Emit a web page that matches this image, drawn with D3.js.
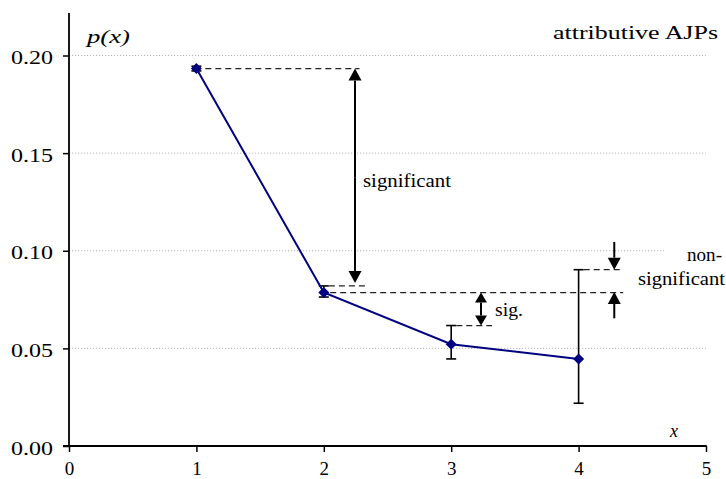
<!DOCTYPE html>
<html><head><meta charset="utf-8">
<script src="https://cdn.jsdelivr.net/npm/d3@7"></script>
<style>body{margin:0;background:#fff}svg{display:block}</style>
</head><body>
<script>
const xValues = [1, 2, 3, 4];
const pValues = [0.1933, 0.0786, 0.0521, 0.0446];
const errLow  = [0.1921, 0.0763, 0.0446, 0.0219];
const errHigh = [0.1945, 0.0820, 0.0617, 0.0903];
const xTicks = [0, 1, 2, 3, 4, 5];
const yTicks = [0, 0.05, 0.10, 0.15, 0.20];
const yTickLabels = ["0.00", "0.05", "0.10", "0.15", "0.20"];

const FONT = "Liberation Serif";
const TICK_SIZE = 19, LABEL_SIZE = 18;
const W = 726, H = 479;
const svg = d3.select("body").append("svg").attr("width", W).attr("height", H);
const x = d3.scaleLinear().domain([0, 5]).range([69, 706]);
const y = d3.scaleLinear().domain([0, 0.2]).range([446, 55.5]);

// gridlines
svg.append("g").selectAll("line").data(yTicks.filter(d => d > 0)).join("line")
  .attr("x1", x(0)).attr("x2", x(5)).attr("y1", d => y(d)).attr("y2", d => y(d))
  .attr("stroke", "#b8b8b8").attr("stroke-width", 1).attr("stroke-dasharray", "1.2,1.8");

// white box behind right label
svg.append("rect").attr("x", 664).attr("y", 238).attr("width", 62).attr("height", 28).attr("fill", "#fff");

// axes
const yAxis = svg.append("g").attr("transform", `translate(${x(0)},0)`)
  .call(d3.axisLeft(y).tickValues(yTicks).tickSize(6).tickFormat((d, i) => yTickLabels[i]));
const xAxis = svg.append("g").attr("transform", `translate(0,${y(0)})`)
  .call(d3.axisBottom(x).tickValues(xTicks).tickSize(6).tickFormat(d3.format("d")));
[yAxis, xAxis].forEach(g => {
  g.attr("font-family", null).attr("font-size", null);
  g.select(".domain").remove();
  g.selectAll(".tick line").attr("stroke", "#000").attr("stroke-width", 1.5);
  g.selectAll("text").style("font-family", FONT).style("font-size", TICK_SIZE + "px")
    .attr("fill", "#000").attr("dy", 0);
});
yAxis.selectAll(".tick text").attr("x", -16).attr("y", 8)
  .attr("textLength", 42).attr("lengthAdjust", "spacingAndGlyphs");
xAxis.selectAll(".tick text").attr("x", 0).attr("y", 29);
svg.append("line").attr("x1", x(0)).attr("x2", x(0)).attr("y1", 13).attr("y2", y(0) + 0.75)
  .attr("stroke", "#000").attr("stroke-width", 1.8);
svg.append("line").attr("x1", x(0) - 6).attr("x2", x(5) + 0.8).attr("y1", y(0)).attr("y2", y(0))
  .attr("stroke", "#000").attr("stroke-width", 1.8);

// dashed reference lines
const dashed = [
  {x1: 1.07, x2: 2.28, v: pValues[0]},
  {x1: 2.04, x2: 2.34, v: errHigh[1]},
  {x1: 2.05, x2: 4.35, v: pValues[1]},
  {x1: 3.04, x2: 3.32, v: errHigh[2]},
  {x1: 4.04, x2: 4.34, v: errHigh[3]}
];
svg.append("g").selectAll("line").data(dashed).join("line")
  .attr("x1", d => x(d.x1)).attr("x2", d => x(d.x2)).attr("y1", d => y(d.v)).attr("y2", d => y(d.v))
  .attr("stroke", "#222").attr("stroke-width", 1.3).attr("stroke-dasharray", "6,4");

// arrows
function arrow(xv, fromV, toV, hw, hl) {
  const xs = x(xv), y0 = y(fromV), y1 = y(toV);
  const dir = y1 > y0 ? 1 : -1;
  svg.append("line").attr("x1", xs).attr("x2", xs).attr("y1", y0).attr("y2", y1 - dir * hl)
    .attr("stroke", "#000").attr("stroke-width", 2);
  svg.append("path").attr("d", `M${xs},${y1}L${xs - hw},${y1 - dir * hl}L${xs + hw},${y1 - dir * hl}Z`).attr("fill", "#000");
}
arrow(2.245, (pValues[0] + errHigh[1]) / 2, pValues[0], 6.5, 12);
arrow(2.245, (pValues[0] + errHigh[1]) / 2, errHigh[1] + 0.0015, 6.5, 12);
arrow(3.234, (pValues[1] + errHigh[2]) / 2, pValues[1], 6, 10);
arrow(3.234, (pValues[1] + errHigh[2]) / 2, errHigh[2], 6, 10);
arrow(4.28, 0.1045, errHigh[3], 6.5, 12);
arrow(4.28, 0.0654, pValues[1] + 0.0003, 6.5, 12);

// error bars
const eb = svg.append("g").attr("stroke", "#000").attr("stroke-width", 1.6);
xValues.forEach((xv, i) => {
  const cx = x(xv);
  eb.append("line").attr("x1", cx).attr("x2", cx).attr("y1", y(errLow[i])).attr("y2", y(errHigh[i]));
  eb.append("line").attr("x1", cx - 5).attr("x2", cx + 5).attr("y1", y(errLow[i])).attr("y2", y(errLow[i]));
  eb.append("line").attr("x1", cx - 5).attr("x2", cx + 5).attr("y1", y(errHigh[i])).attr("y2", y(errHigh[i]));
});

// series line
svg.append("path").datum(xValues.map((xv, i) => [xv, pValues[i]]))
  .attr("d", d3.line().x(d => x(d[0])).y(d => y(d[1])))
  .attr("fill", "none").attr("stroke", "#000080").attr("stroke-width", 2);
svg.append("g").selectAll("path").data(xValues).join("path")
  .attr("d", (xv, i) => { const cx = x(xv), cy = y(pValues[i]); return `M${cx},${cy - 5.5}L${cx + 5.5},${cy}L${cx},${cy + 5.5}L${cx - 5.5},${cy}Z`; })
  .attr("fill", "#000080");

// texts
function txt(s, tx, ty, anchor, opts = {}) {
  const t = svg.append("text").attr("x", tx).attr("y", ty).attr("text-anchor", anchor)
    .style("font-family", FONT).style("font-size", (opts.size || LABEL_SIZE) + "px")
    .style("font-style", opts.italic ? "italic" : "normal").attr("fill", "#000").text(s);
  if (opts.len) t.attr("textLength", opts.len).attr("lengthAdjust", "spacingAndGlyphs");
  return t;
}
txt("p(x)", 87, 42.5, "start", {italic: true, len: 43});
txt("attributive AJPs", 718, 38.5, "end", {len: 165});
txt("significant", 363, 187, "start", {len: 88});
txt("sig.", 495, 316, "start", {len: 28});
txt("non-", 722, 261, "end", {len: 35});
txt("significant", 725, 285, "end", {len: 87});
txt("x", 670, 437, "start", {italic: true});
</script>
</body></html>
